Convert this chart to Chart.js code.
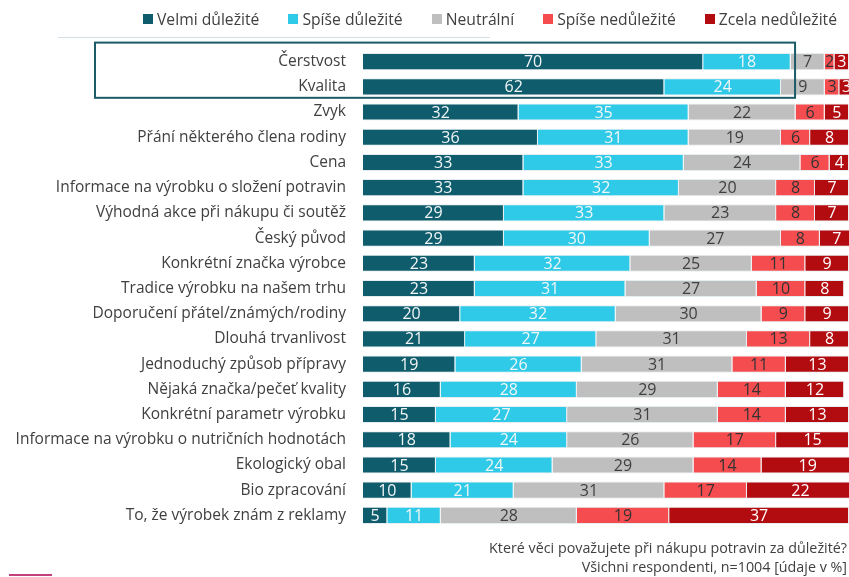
<!DOCTYPE html>
<html>
<head>
<meta charset="utf-8">
<script src="https://cdn.jsdelivr.net/npm/chart.js@4/dist/chart.umd.min.js"></script>
<style>
  html, body { margin: 0; padding: 0; background: #fff; }
  #obal { position: relative; width: 849px; height: 577px; font-family: "Open Sans", sans-serif; }
  #legenda { position: absolute; right: 12px; top: 7px; display: flex; font-size: 15.7px; line-height: 24px; color: #404040; }
  #legenda .polozka { display: flex; align-items: center; margin-left: 29px; }
  #legenda .polozka:first-child { margin-left: 0; }
  #legenda .ctverec { width: 10px; height: 10px; margin-right: 4px; }
  #popis { position: absolute; right: 2px; top: 538px; text-align: right; font-size: 14.3px; line-height: 19px; color: #404040; }
  #linka { position: absolute; left: 9px; top: 574px; width: 43px; height: 2px; background: #c2407c; }
</style>
</head>
<body>
<div id="obal">
  <canvas id="graf" width="849" height="577"></canvas>
  <div id="legenda"></div>
  <div id="popis">Které věci považujete při nákupu potravin za důležité?<br>Všichni respondenti, n=1004 [údaje v %]</div>
  <div id="linka"></div>
</div>
<script>
const kategorie = [
  "Čerstvost", "Kvalita", "Zvyk", "Přání některého člena rodiny", "Cena",
  "Informace na výrobku o složení potravin", "Výhodná akce při nákupu či soutěž",
  "Český původ", "Konkrétní značka výrobce", "Tradice výrobku na našem trhu",
  "Doporučení přátel/známých/rodiny", "Dlouhá trvanlivost", "Jednoduchý způsob přípravy",
  "Nějaká značka/pečeť kvality", "Konkrétní parametr výrobku",
  "Informace na výrobku o nutričních hodnotách", "Ekologický obal", "Bio zpracování",
  "To, že výrobek znám z reklamy"
]
const velmiDulezite    = [70, 62, 32, 36, 33, 33, 29, 29, 23, 23, 20, 21, 19, 16, 15, 18, 15, 10, 5]
const spiseDulezite    = [18, 24, 35, 31, 33, 32, 33, 30, 32, 31, 32, 27, 26, 28, 27, 24, 24, 21, 11]
const neutralni        = [7, 9, 22, 19, 24, 20, 23, 27, 25, 27, 30, 31, 31, 29, 31, 26, 29, 31, 28]
const spiseNedulezite  = [2, 3, 6, 6, 6, 8, 8, 8, 11, 10, 9, 13, 11, 14, 14, 17, 14, 17, 19]
const zcelaNedulezite  = [3, 3, 5, 8, 4, 7, 7, 7, 9, 8, 9, 8, 13, 12, 13, 15, 19, 22, 37]

const barvaPopisku = ['#f2f6f7', '#f2f6f7', '#404040', '#333333', '#ffffff']

// popisky hodnot uvnitr segmentu + ramecek kolem prvnich dvou radku
const popiskyPlugin = {
  id: 'popisky',
  afterDatasetsDraw(chart) {
    const ctx = chart.ctx
    ctx.save()
    ctx.font = '16px "Open Sans", sans-serif'
    ctx.textAlign = 'center'
    ctx.textBaseline = 'middle'
    chart.data.datasets.forEach((ds, i) => {
      const meta = chart.getDatasetMeta(i)
      meta.data.forEach((bar, j) => {
        const p = bar.getProps(['x', 'y', 'base'], true)
        ctx.fillStyle = barvaPopisku[i]
        ctx.fillText(ds.data[j], (p.x + p.base) / 2, p.y + 1)
      })
    })

    const y = chart.scales.y
    const x = chart.scales.x
    ctx.strokeStyle = '#1b5b68'
    ctx.lineWidth = 2
    const horni = y.getPixelForValue(0) - 19
    const dolni = y.getPixelForValue(1) + 11
    const levy = chart.chartArea.left - 268
    const pravy = x.getPixelForValue(88.9)
    ctx.strokeRect(levy, horni, pravy - levy, dolni - horni)

    ctx.strokeStyle = '#d3dfe5'
    ctx.lineWidth = 1
    ctx.beginPath()
    ctx.moveTo(58, 37.5)
    ctx.lineTo(490, 37.5)
    ctx.stroke()
    ctx.restore()
  }
}

function serie(label, data, barva) {
  return {
    label: label,
    data: data,
    backgroundColor: barva,
    borderColor: '#e6edf0',
    borderWidth: 1,
    categoryPercentage: 0.8,
    barPercentage: 0.85
  }
}

const graf = new Chart(document.getElementById('graf'), {
  type: 'bar',
  data: {
    labels: kategorie,
    datasets: [
      serie('Velmi důležité', velmiDulezite, '#0f5d6c'),
      serie('Spíše důležité', spiseDulezite, '#2ecae8'),
      serie('Neutrální', neutralni, '#bfbfbf'),
      serie('Spíše nedůležité', spiseNedulezite, '#f54d4f'),
      serie('Zcela nedůležité', zcelaNedulezite, '#b30c10')
    ]
  },
  options: {
    indexAxis: 'y',
    responsive: false,
    animation: false,
    layout: { padding: { top: 49, bottom: 49, right: 0, left: 0 } },
    scales: {
      x: { stacked: true, min: 0, max: 100, display: false },
      y: {
        stacked: true,
        grid: { display: false, drawTicks: false },
        border: { display: false },
        ticks: {
          color: '#404040',
          padding: 17,
          font: { family: '"Open Sans", sans-serif', size: 15.5 }
        },
        afterFit(scale) { scale.width = 363 }
      }
    },
    plugins: {
      legend: { display: false },
      tooltip: { enabled: false }
    }
  },
  plugins: [popiskyPlugin]
})

// legenda v HTML, z datasetu grafu
const legenda = document.getElementById('legenda')
graf.data.datasets.forEach(ds => {
  const polozka = document.createElement('div')
  polozka.className = 'polozka'
  const ctverec = document.createElement('span')
  ctverec.className = 'ctverec'
  ctverec.style.background = ds.backgroundColor
  polozka.appendChild(ctverec)
  polozka.appendChild(document.createTextNode(ds.label))
  legenda.appendChild(polozka)
})
</script>
</body>
</html>
